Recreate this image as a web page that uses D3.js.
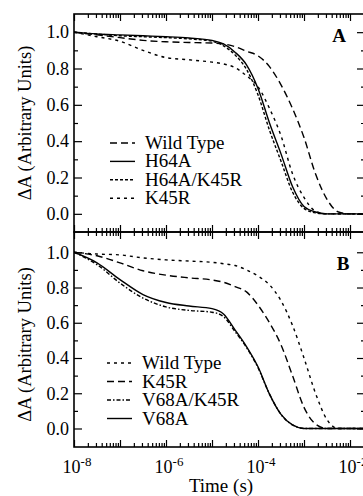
<!DOCTYPE html>
<html>
<head>
<meta charset="utf-8">
<script src="https://cdn.jsdelivr.net/npm/d3@7"></script>
<style>
  body { margin: 0; background: #fff; }
  text { font-family: "Liberation Serif", "Times New Roman", serif; fill: #000; }
</style>
</head>
<body>
<div id="chart"></div>
<script>
const width = 363;
const height = 496;
const plotLeft = 74;
const plotRight = 365;

// data (time as log10 seconds)
const logTime = [-8, -7.5, -7, -6.5, -6, -5.5, -5, -4.75, -4.5, -4.25, -4, -3.75, -3.5, -3.25, -3, -2.75, -2.5, -2.25, -2, -1.7];

// panel A
const namesA = ["Wild Type", "H64A", "H64A/K45R", "K45R"];
const wildTypeA = [1.0, 0.985, 0.97, 0.955, 0.947, 0.943, 0.94, 0.935, 0.92, 0.895, 0.87, 0.81, 0.71, 0.58, 0.42, 0.22, 0.08, 0.01, 0, 0];
const h64a = [1.0, 0.99, 0.985, 0.98, 0.975, 0.968, 0.955, 0.935, 0.89, 0.82, 0.69, 0.50, 0.33, 0.15, 0.04, 0.01, 0, 0, 0, 0];
const h64aK45r = [1.0, 0.99, 0.98, 0.975, 0.97, 0.963, 0.95, 0.925, 0.875, 0.795, 0.655, 0.46, 0.29, 0.12, 0.03, 0.005, 0, 0, 0, 0];
const k45rA = [1.0, 0.975, 0.95, 0.9, 0.86, 0.848, 0.835, 0.825, 0.805, 0.76, 0.70, 0.58, 0.43, 0.22, 0.09, 0.015, 0, 0, 0, 0];

// panel B
const namesB = ["Wild Type", "K45R", "V68A/K45R", "V68A"];
const wildTypeB = [1.0, 0.99, 0.985, 0.968, 0.957, 0.95, 0.943, 0.935, 0.925, 0.90, 0.865, 0.815, 0.725, 0.585, 0.40, 0.20, 0.05, 0, 0, 0];
const k45rB = [1.0, 0.98, 0.94, 0.895, 0.87, 0.855, 0.843, 0.83, 0.805, 0.775, 0.70, 0.60, 0.475, 0.30, 0.12, 0.025, 0, 0, 0, 0];
const v68aK45r = [1.0, 0.93, 0.825, 0.74, 0.69, 0.67, 0.66, 0.635, 0.55, 0.46, 0.345, 0.195, 0.08, 0.02, 0, 0, 0, 0, 0, 0];
const v68a = [1.0, 0.94, 0.845, 0.76, 0.715, 0.695, 0.68, 0.65, 0.56, 0.465, 0.35, 0.195, 0.08, 0.02, 0, 0, 0, 0, 0, 0];

const yTicks = [0, 0.2, 0.4, 0.6, 0.8, 1.0];
const yMinor = [0.1, 0.3, 0.5, 0.7, 0.9];
const xLabelExps = [-8, -6, -4, -2];

// dash styles
const longDash = "7,4";
const denseDash = "3,2";
const sparseDash = "3,4";
const dashDot = "4,2,1.5,2";

const svg = d3.select("#chart")
    .append("svg")
    .attr("width", width)
    .attr("height", height);

const x = d3.scaleLog()
    .domain([1e-8, Math.pow(10, -1.674)])
    .range([plotLeft, plotRight]);

const xMajor = d3.range(-8, -1).map(e => Math.pow(10, e));
const xMinor = [];
d3.range(-8, -1).forEach(e => {
    for (let k = 2; k <= 9; k++) {
        const v = k * Math.pow(10, e);
        if (v < x.domain()[1]) xMinor.push(v);
    }
});

svg.append("defs").append("clipPath")
    .attr("id", "clip")
    .append("rect")
    .attr("x", plotLeft).attr("y", 0)
    .attr("width", plotRight - plotLeft).attr("height", height);

function drawPanel(top, bottom, yDomain, series, label, legendPos, labelPos) {
    const y = d3.scaleLinear().domain(yDomain).range([bottom, top]);
    const g = svg.append("g");

    const line = d3.line()
        .x((d, i) => x(Math.pow(10, logTime[i])))
        .y(d => y(d))
        .curve(d3.curveMonotoneX);

    // x ticks, top and bottom, inward
    const xAxes = [
        [d3.axisBottom(x).tickValues(xMajor).tickSize(7), top],
        [d3.axisBottom(x).tickValues(xMinor).tickSize(4), top],
        [d3.axisTop(x).tickValues(xMajor).tickSize(7), bottom],
        [d3.axisTop(x).tickValues(xMinor).tickSize(4), bottom]
    ];
    xAxes.forEach(([ax, yy]) => {
        g.append("g")
            .attr("transform", `translate(0,${yy})`)
            .call(ax.tickFormat("").tickSizeOuter(0))
            .call(s => s.select(".domain").remove())
            .selectAll("line").attr("stroke", "#000").attr("stroke-width", 1.2);
    });

    // y ticks, left and right, inward
    const yAxes = [
        [d3.axisRight(y).tickValues(yTicks).tickSize(8), plotLeft],
        [d3.axisRight(y).tickValues(yMinor).tickSize(4), plotLeft],
        [d3.axisLeft(y).tickValues(yTicks).tickSize(8), plotRight],
        [d3.axisLeft(y).tickValues(yMinor).tickSize(4), plotRight]
    ];
    yAxes.forEach(([ax, xx]) => {
        g.append("g")
            .attr("transform", `translate(${xx},0)`)
            .call(ax.tickFormat("").tickSizeOuter(0))
            .call(s => s.select(".domain").remove())
            .selectAll("line").attr("stroke", "#000").attr("stroke-width", 1.2);
    });

    g.selectAll(".ylab")
        .data(yTicks)
        .enter()
        .append("text")
        .attr("class", "ylab")
        .attr("x", plotLeft - 5)
        .attr("y", d => y(d))
        .attr("dy", "0.35em")
        .attr("text-anchor", "end")
        .style("font-size", "18px")
        .text(d3.format(".1f"));

    g.append("rect")
        .attr("x", plotLeft).attr("y", top)
        .attr("width", plotRight - plotLeft).attr("height", bottom - top)
        .attr("fill", "none").attr("stroke", "#000").attr("stroke-width", 1.6);

    g.append("g")
        .attr("clip-path", "url(#clip)")
        .selectAll("path")
        .data(series)
        .enter()
        .append("path")
        .attr("d", d => line(d.values))
        .attr("fill", "none")
        .attr("stroke", "#000")
        .attr("stroke-width", 1.4)
        .attr("stroke-dasharray", d => d.dash);

    // legend
    series.forEach((s, i) => {
        const ly = legendPos.y + i * legendPos.step;
        g.append("line")
            .attr("x1", legendPos.x).attr("x2", legendPos.x + 25)
            .attr("y1", ly).attr("y2", ly)
            .attr("stroke", "#000").attr("stroke-width", 1.4)
            .attr("stroke-dasharray", s.dash);
        g.append("text")
            .attr("x", legendPos.x + 35)
            .attr("y", ly + 6)
            .style("font-size", "19px")
            .text(s.name);
    });

    g.append("text")
        .attr("x", labelPos.x).attr("y", labelPos.y)
        .attr("text-anchor", "middle")
        .style("font-size", "19px")
        .style("font-weight", "bold")
        .text(label);

    g.append("text")
        .attr("transform", `rotate(-90)`)
        .attr("x", -(top + bottom) / 2 - (label === "B" ? 5 : 0))
        .attr("y", 31)
        .attr("text-anchor", "middle")
        .style("font-size", "18.5px")
        .text("ΔA (Arbitrary Units)");
}

drawPanel(14, 232, [-0.1, 1.1], [
    { name: namesA[0], values: wildTypeA, dash: longDash },
    { name: namesA[1], values: h64a, dash: null },
    { name: namesA[2], values: h64aK45r, dash: denseDash },
    { name: namesA[3], values: k45rA, dash: sparseDash }
], "A", { x: 110, y: 143, step: 18.4 }, { x: 339, y: 42 });

drawPanel(232, 447, [-0.105, 1.115], [
    { name: namesB[0], values: wildTypeB, dash: sparseDash },
    { name: namesB[1], values: k45rB, dash: longDash },
    { name: namesB[2], values: v68aK45r, dash: dashDot },
    { name: namesB[3], values: v68a, dash: null }
], "B", { x: 107, y: 363, step: 18.5 }, { x: 343, y: 270 });

// x tick labels with superscript exponents
const xl = svg.selectAll(".xlab")
    .data(xLabelExps)
    .enter()
    .append("text")
    .attr("class", "xlab")
    .attr("x", d => x(Math.pow(10, d)) + 3)
    .attr("y", 473)
    .attr("text-anchor", "middle")
    .style("font-size", "18px");
xl.append("tspan").text("10");
xl.append("tspan")
    .attr("dy", -7)
    .style("font-size", "13px")
    .text(d => String(d));

svg.append("text")
    .attr("x", 221)
    .attr("y", 492)
    .attr("text-anchor", "middle")
    .style("font-size", "19px")
    .text("Time (s)");
</script>
</body>
</html>
